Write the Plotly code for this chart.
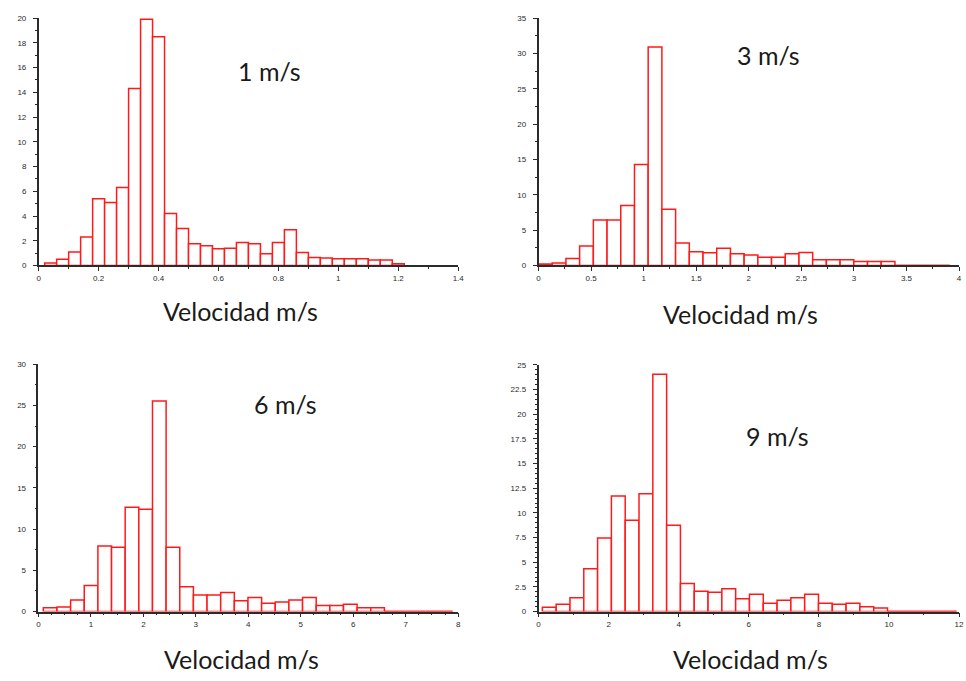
import plotly.graph_objects as go

# Histogram counts for each wind speed (30 equal bins each)
labels = ["1 m/s", "3 m/s", "6 m/s", "9 m/s"]

bin_start_1 = 0.02
bin_width_1 = 0.04
counts_1 = [0.2, 0.5, 1.1, 2.3, 5.4, 5.1, 6.3, 14.3, 19.9, 18.5,
            4.2, 3.0, 1.75, 1.6, 1.35, 1.4, 1.85, 1.75, 0.95, 1.85,
            2.9, 1.05, 0.65, 0.6, 0.55, 0.55, 0.55, 0.45, 0.45, 0.15]

bin_start_3 = 0.0
bin_width_3 = 0.1304
counts_3 = [0.2, 0.35, 1.0, 2.75, 6.45, 6.45, 8.5, 14.3, 30.9, 7.95,
            3.2, 1.95, 1.8, 2.45, 1.65, 1.5, 1.15, 1.15, 1.65, 1.85,
            0.8, 0.8, 0.8, 0.55, 0.55, 0.55, 0, 0, 0, 0]

bin_start_6 = 0.094
bin_width_6 = 0.26
counts_6 = [0.45, 0.55, 1.4, 3.15, 7.95, 7.8, 12.65, 12.4, 25.55, 7.8,
            3.0, 2.0, 2.0, 2.3, 1.3, 1.7, 1.0, 1.15, 1.4, 1.7,
            0.75, 0.75, 0.9, 0.45, 0.45, 0, 0, 0, 0, 0]

bin_start_9 = 0.11
bin_width_9 = 0.394
counts_9 = [0.45, 0.75, 1.4, 4.35, 7.45, 11.7, 9.25, 11.95, 24.05, 8.75,
            2.85, 2.05, 1.95, 2.3, 1.3, 1.75, 0.85, 1.15, 1.4, 1.75,
            0.85, 0.75, 0.85, 0.5, 0.35, 0, 0, 0, 0, 0]

x_ranges = [[0, 1.4], [0, 4], [0, 8], [0, 12]]
y_ranges = [[0, 20], [0, 35], [0, 30], [0, 25]]
x_dticks = [0.2, 0.5, 1, 2]
y_dticks = [2, 5, 5, 2.5]
x_minor = [0.1, 0.25, 0.25, 1]
y_minor = [1, 2.5, 2.5, 0.5]
x_title = "Velocidad m/s"

panels = [
    (bin_start_1, bin_width_1, counts_1),
    (bin_start_3, bin_width_3, counts_3),
    (bin_start_6, bin_width_6, counts_6),
    (bin_start_9, bin_width_9, counts_9),
]

W, H = 966, 681
# plot-area pixel boxes: (left, right, bottom, top)
boxes = [
    (37, 460, 265, 14.3),
    (541, 965, 265, 14.3),
    (36.7, 460, 615.7, 365),
    (541, 965, 615.7, 365.7),
]
label_pos = [(270, 68), (773, 52), (286, 405), (782, 438)]
title_pos = [(240, 311), (745, 314), (241, 664), (755, 664)]

RED = "#ff1a1a"
AXIS = "#2b2b2b"
TEXT_FONT = dict(family="Lato, Open Sans, sans-serif", size=25, color="#1a1a1a")

fig = go.Figure()
layout = dict(
    width=W, height=H, margin=dict(l=0, r=0, t=0, b=0),
    paper_bgcolor="white", plot_bgcolor="white", showlegend=False,
    annotations=[],
)

for i, (start, width, counts) in enumerate(panels):
    n = "" if i == 0 else str(i + 1)
    xa, ya = "x" + n, "y" + n
    edges = [start + k * width for k in range(len(counts) + 1)]
    centers = [(edges[k] + edges[k + 1]) / 2 for k in range(len(counts))]
    fig.add_trace(go.Bar(
        x=centers, y=counts, width=width, xaxis=xa, yaxis=ya,
        marker=dict(color="white", line=dict(color=RED, width=1.5)),
        hoverinfo="x+y",
    ))
    # empty bins are drawn as a flat line on the baseline
    zero_idx = [k for k, c in enumerate(counts) if c == 0]
    if zero_idx:
        fig.add_trace(go.Scatter(
            x=[edges[zero_idx[0]], edges[zero_idx[-1] + 1]], y=[0, 0],
            mode="lines", line=dict(color=RED, width=1.5),
            xaxis=xa, yaxis=ya, hoverinfo="skip", cliponaxis=False,
        ))

    l, r, b, t = boxes[i]
    common = dict(
        showgrid=False, zeroline=False, showline=True, linecolor=AXIS,
        linewidth=1.5, ticks="outside", ticklen=4, tickwidth=1.2,
        tickcolor=AXIS,
        tickfont=dict(family="Liberation Sans, Arial, sans-serif",
                      size=8, color="#2b2b2b"),
        fixedrange=True,
    )
    layout["xaxis" + n] = dict(
        common, domain=[l / W, r / W], range=x_ranges[i], anchor=ya,
        tick0=0, dtick=x_dticks[i],
        minor=dict(dtick=x_minor[i], ticks="outside", ticklen=2,
                   tickcolor=AXIS, showgrid=False),
    )
    layout["yaxis" + n] = dict(
        common, domain=[1 - b / H, 1 - t / H], range=y_ranges[i], anchor=xa,
        tick0=0, dtick=y_dticks[i], ticklabelstandoff=5,
        minor=dict(dtick=y_minor[i], ticks="outside", ticklen=2,
                   tickcolor=AXIS, showgrid=False),
    )

    lx, ly = label_pos[i]
    layout["annotations"].append(dict(
        text=labels[i], x=lx / W, y=1 - ly / H, xref="paper", yref="paper",
        showarrow=False, xanchor="center", yanchor="middle", font=TEXT_FONT,
    ))
    tx, ty = title_pos[i]
    layout["annotations"].append(dict(
        text=x_title, x=tx / W, y=1 - ty / H, xref="paper", yref="paper",
        showarrow=False, xanchor="center", yanchor="middle", font=TEXT_FONT,
    ))

fig.update_layout(**layout)
fig.write_html("out.html")
